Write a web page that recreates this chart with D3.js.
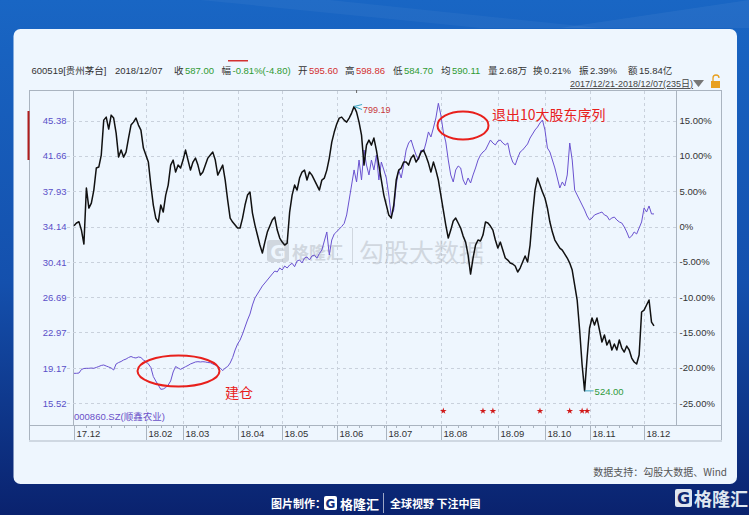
<!DOCTYPE html>
<html><head><meta charset="utf-8">
<script src="https://cdn.jsdelivr.net/npm/d3@7"></script>
<style>body{margin:0;background:#0d2f86;} svg{display:block}</style>
</head><body>
<svg id="c" width="749" height="515"></svg>
<script>
// ---------- data ----------
const monthLabels = ["17.12","18.02","18.03","18.04","18.05","18.06","18.07","18.08","18.09","18.10","18.11","18.12"];
const monthDays   = [0,29,44,66,84,106,126,148,171,190,208,230];
const rightTicks  = [15,10,5,0,-5,-10,-15,-20,-25];
const leftTicks   = ["45.38","41.66","37.93","34.14","30.41","26.69","22.97","19.17","15.52"];
// 600519 贵州茅台: % change since 2017/12/21, one value per trading day (235 days)
const moutaiPct = [
  0.11,0.50,0.68,-0.50,-2.48,5.45,2.62,3.33,5.17,8.29,
  8.43,10.13,15.08,15.51,13.81,15.79,15.37,13.24,9.84,10.84,
  9.84,10.55,12.54,14.38,14.80,15.37,14.38,13.67,11.12,10.13,
  9.14,5.88,3.05,1.20,0.64,3.05,2.05,4.46,5.88,8.71,
  9.42,7.72,8.71,8.29,9.42,10.84,9.42,8.00,9.14,9.70,
  8.71,7.29,7.72,8.71,9.70,10.13,10.55,9.42,7.29,8.00,
  8.71,6.59,3.75,1.20,0.64,0.21,-0.21,-0.21,1.20,3.05,
  4.46,4.89,1.91,0.21,-1.20,-2.62,-3.75,-2.20,-0.78,0.07,
  0.92,1.35,-0.50,-1.63,-2.20,-2.62,-2.34,2.05,4.46,5.88,
  5.17,6.87,7.72,8.00,6.59,7.72,7.29,6.59,5.88,5.17,
  6.59,6.87,8.00,9.70,11.97,13.39,14.52,15.37,15.51,15.08,
  14.80,15.37,16.08,17.01,16.22,14.80,12.96,8.71,11.54,12.25,
  11.54,12.54,10.84,8.71,6.59,4.46,3.05,1.63,1.20,3.05,
  6.59,8.00,8.29,9.14,9.14,8.71,9.70,10.13,9.14,9.70,
  10.55,10.84,9.99,8.99,7.72,9.14,8.00,6.59,4.46,2.34,
  0.21,-1.63,-0.50,0.78,1.20,0.50,-0.21,-1.35,-2.20,-4.04,
  -6.73,-4.46,-2.62,-1.91,-2.05,-1.20,0.64,0.50,0.07,-0.50,
  -1.91,-3.05,-2.20,-3.33,-4.46,-4.75,-5.17,-5.31,-5.59,-6.44,
  -5.88,-5.03,-4.18,-5.03,-2.62,1.63,5.17,6.87,5.88,4.89,
  4.04,2.62,0.64,-0.78,-1.91,-2.48,-3.05,-3.33,-3.90,-4.46,
  -5.17,-6.16,-8.29,-10.41,-14.66,-19.62,-23.28,-18.63,-14.38,-12.96,
  -13.95,-12.96,-14.66,-16.36,-15.37,-16.78,-16.08,-17.49,-16.64,-17.49,
  -16.08,-17.21,-17.78,-16.93,-17.49,-18.63,-19.19,-19.48,-18.20,-12.11,
  -11.83,-11.12,-10.41,-13.53,-14.06];
// 000860 顺鑫农业: price, one value per trading day
const shunxinPrice = [
  18.66,18.66,18.69,19.06,19.17,19.19,19.19,19.22,19.19,19.28,
  19.38,19.49,19.54,19.43,19.33,19.22,19.01,19.65,19.80,19.91,
  20.07,20.17,20.33,20.44,20.33,20.28,20.39,20.33,20.07,19.91,
  19.65,19.28,18.32,17.85,17.42,16.97,17.00,17.16,17.42,17.85,
  18.80,19.38,19.22,19.08,19.22,19.36,19.49,19.65,19.75,19.86,
  19.89,19.86,19.89,19.86,19.80,19.78,19.65,19.54,19.38,19.22,
  18.94,19.22,19.38,19.75,20.33,21.13,21.76,22.18,22.82,23.56,
  24.30,24.93,25.89,26.63,27.05,27.47,27.90,28.21,28.53,28.85,
  29.17,29.48,29.38,29.80,29.59,30.01,29.80,30.12,30.30,29.94,
  30.54,30.65,30.33,30.86,30.96,30.65,31.07,31.17,30.83,31.33,
  31.70,32.66,33.61,31.17,32.76,33.40,33.64,33.92,34.19,34.51,
  35.41,36.99,38.58,40.17,38.90,41.22,39.11,42.28,40.69,39.64,
  41.22,40.17,41.75,39.11,41.01,40.17,39.32,37.52,35.30,35.93,
  38.58,40.17,39.32,40.69,42.28,43.02,43.34,42.49,41.75,41.22,
  42.28,42.07,43.02,44.19,43.66,44.61,45.67,47.22,45.98,44.19,
  43.13,41.22,39.64,38.90,40.17,40.59,40.38,39.11,38.58,39.32,
  38.79,39.64,40.38,41.22,41.75,42.07,42.28,42.81,43.34,43.02,
  42.81,43.23,43.34,43.02,42.81,43.02,41.75,41.01,40.69,41.44,
  42.07,42.28,42.60,42.92,43.55,43.97,44.40,44.71,45.14,45.45,
  44.40,42.49,42.07,41.22,40.38,39.32,38.26,38.90,38.47,39.64,
  43.02,41.22,38.05,37.52,36.99,36.46,35.93,35.30,34.88,35.09,
  35.41,35.52,35.62,35.72,35.41,35.30,34.88,35.09,35.19,34.88,
  34.67,34.56,34.14,33.61,32.97,33.18,33.61,33.40,34.03,34.67,
  36.15,35.72,36.36,35.52,35.52];
const starDays = [149,165,169,188,200,205,207];
const maxLabel = "799.19", minLabel = "524.00";
const headerLabels = ["收","幅","开","高","低","均","量","换","振","额"];
const headerValues = ["587.00","-0.81%(-4.80)","595.60","598.86","584.70","590.11","2.68万","0.21%","2.39%","15.84亿"];
const headerKinds  = ["down","down","up","up","down","down","flat","flat","flat","flat"];

// ---------- layout ----------
const svg = d3.select("#c");
const FONT = "'Noto Sans CJK SC','Noto Sans',sans-serif";
const FL = "'Liberation Sans','Noto Sans CJK SC',sans-serif";
const defs = svg.append("defs");
const g1 = defs.append("linearGradient").attr("id","bg").attr("x1",0).attr("y1",0).attr("x2",0).attr("y2",1);
g1.append("stop").attr("offset","0%").attr("stop-color","#1966c4");
g1.append("stop").attr("offset","55%").attr("stop-color","#1450ad");
g1.append("stop").attr("offset","100%").attr("stop-color","#0a226e");
svg.append("rect").attr("width",749).attr("height",515).attr("fill","url(#bg)");
svg.append("path").attr("d","M200,0 L330,0 L600,28 L480,28 Z").attr("fill","#ffffff").attr("opacity",0.04);
svg.append("path").attr("d","M560,28 L749,0 L749,28 Z").attr("fill","#ffffff").attr("opacity",0.05);
svg.append("rect").attr("x",13.5).attr("y",29).attr("width",723.5).attr("height",455).attr("rx",7).attr("fill","#eef6fe");

const L=29, R=721, T=90, B=425, AX=73, AXR=676;
const days = d3.range(moutaiPct.length);
const x  = d3.scaleLinear().domain([0,234]).range([74,654]);
const yR = d3.scaleLinear().domain([-25,15]).range([403,120.7]);
const yL = d3.scaleLinear().domain([15.52,45.38]).range([403,120.7]);

// frame
const frame = svg.append("g").attr("stroke","#aab4c0").attr("stroke-width",1).attr("fill","none");
frame.append("line").attr("x1",L).attr("x2",R).attr("y1",T+0.5).attr("y2",T+0.5);
frame.append("line").attr("x1",L+0.5).attr("x2",L+0.5).attr("y1",T).attr("y2",B+16);
frame.append("line").attr("x1",AX+0.5).attr("x2",AX+0.5).attr("y1",T).attr("y2",B);
frame.append("line").attr("x1",AXR+0.5).attr("x2",AXR+0.5).attr("y1",T).attr("y2",B);
frame.append("line").attr("x1",R+0.5).attr("x2",R+0.5).attr("y1",T).attr("y2",B+16);
frame.append("line").attr("x1",L).attr("x2",R).attr("y1",B+0.5).attr("y2",B+0.5);
svg.append("rect").attr("x",L).attr("y",B+15).attr("width",R-L+1).attr("height",2).attr("fill","#cfd8e2");
svg.append("rect").attr("x",27.5).attr("y",111).attr("width",2).attr("height",49).attr("fill","#b01c1c");

// grid
const grid = svg.append("g").attr("stroke","#c9d1dc").attr("stroke-dasharray","3,3").attr("stroke-width",1);
rightTicks.forEach(t=>grid.append("line").attr("x1",67).attr("x2",679).attr("y1",Math.round(yR(t))+0.5).attr("y2",Math.round(yR(t))+0.5));
monthDays.slice(1).forEach(d=>grid.append("line").attr("x1",Math.round(x(d))+0.5).attr("x2",Math.round(x(d))+0.5).attr("y1",T+1).attr("y2",B));

// x axis labels & ticks
const xa = svg.append("g").attr("font-family",FL).attr("font-size",9.5).attr("fill","#333");
monthDays.forEach((d,i)=>{
  const px = Math.round(x(d))+0.5;
  xa.append("line").attr("x1",px).attr("x2",px).attr("y1",B).attr("y2",B+15).attr("stroke","#aab4c0");
  xa.append("text").attr("x",px+2).attr("y",B+11.5).text(monthLabels[i]);
});
d3.range(5,234,5).forEach(d=>xa.append("line").attr("x1",Math.round(x(d))+0.5).attr("x2",Math.round(x(d))+0.5).attr("y1",B).attr("y2",B+3).attr("stroke","#aab4c0"));

// y labels
const ya = svg.append("g").attr("font-family",FL).attr("font-size",9.5);
rightTicks.forEach(t=>ya.append("text").attr("x",679.5).attr("y",yR(t)+3.5).attr("fill","#333").text(t===0?"0%":t.toFixed(2)+"%"));
leftTicks.forEach(v=>ya.append("text").attr("x",66.5).attr("y",yL(+v)+3.5).attr("text-anchor","end").attr("fill","#5a4fc8").text(v));
svg.append("text").attr("x",AX+1).attr("y",B-5).attr("font-family",FL).attr("font-size",9.5).attr("fill","#6a50c8").text("000860.SZ(顺鑫农业)");

// watermark
const wm = svg.append("g").attr("opacity",0.55).attr("fill","#b9bec6");
wm.append("rect").attr("x",267).attr("y",240).attr("width",22).attr("height",22).attr("rx",3);
wm.append("text").attr("x",278).attr("y",259).attr("text-anchor","middle").attr("font-family","DejaVu Sans").attr("font-weight","bold").attr("font-size",19).attr("fill","#eef6fe").text("G");
wm.append("text").attr("x",292).attr("y",259).attr("font-family",FONT).attr("font-size",17).attr("font-weight","bold").text("格隆汇");
wm.append("rect").attr("x",352).attr("y",228).attr("width",1).attr("height",37);
wm.append("text").attr("x",359).attr("y",262).attr("font-family",FONT).attr("font-size",25).text("勾股大数据");

// lines
const lineP = d3.line().x((d,i)=>x(days[i])).y(d=>yL(d));
const lineB = d3.line().x((d,i)=>x(days[i])).y(d=>yR(d));
svg.append("path").attr("d",lineP(shunxinPrice)).attr("fill","none").attr("stroke","#6a52d0").attr("stroke-width",1);
svg.append("path").attr("d",lineB(moutaiPct)).attr("fill","none").attr("stroke","#111").attr("stroke-width",1.5).attr("stroke-linejoin","round");

// extreme labels
const iMax = d3.maxIndex(moutaiPct), iMin = d3.minIndex(moutaiPct);
const mx = x(days[iMax]), my = yR(moutaiPct[iMax]);
svg.append("path").attr("d",`M${mx+8},${my+3}L${mx},${my}L${mx+8},${my-2}`).attr("fill","none").attr("stroke","#3aa7c4");
svg.append("text").attr("x",mx+9).attr("y",my+6).attr("font-family",FL).attr("font-size",9).attr("fill","#c8383a").text(maxLabel);
const nx = x(days[iMin]), ny = yR(moutaiPct[iMin]);
svg.append("path").attr("d",`M${nx+9},${ny}L${nx},${ny}`).attr("fill","none").attr("stroke","#3aa7c4");
svg.append("text").attr("x",nx+10).attr("y",ny+4).attr("font-family",FL).attr("font-size",9.5).attr("fill","#2e9a3c").text(minLabel);
svg.append("line").attr("x1",mx+2.5).attr("x2",mx+2.5).attr("y1",T).attr("y2",T+3).attr("stroke","#666");

// stars
starDays.forEach(d=>svg.append("path").attr("d",d3.symbol(d3.symbolStar,14)()).attr("transform",`translate(${x(d)},411)`).attr("fill","#d01818"));

// annotations
svg.append("ellipse").attr("cx",463).attr("cy",125.5).attr("rx",25.5).attr("ry",14).attr("fill","none").attr("stroke","#e8201c").attr("stroke-width",2);
svg.append("text").attr("x",492).attr("y",120).attr("font-family",FONT).attr("font-size",14).attr("fill","#e8201c").text("退出10大股东序列");
svg.append("ellipse").attr("cx",178.5).attr("cy",371).attr("rx",41).attr("ry",15.5).attr("fill","none").attr("stroke","#e8201c").attr("stroke-width",2);
svg.append("text").attr("x",225).attr("y",398).attr("font-family",FONT).attr("font-size",14).attr("fill","#e8201c").text("建仓");

// header
const hd = svg.append("g").attr("font-family",FL).attr("font-size",9.5);
const colors = {up:"#d33030",down:"#2f9a32",flat:"#333"};
hd.append("text").attr("x",31.5).attr("y",74).attr("fill","#333").text("600519[贵州茅台]");
hd.append("text").attr("x",115).attr("y",74).attr("fill","#333").text("2018/12/07");
const hx = [174,221.5,298,345,393,441,488,533,579,628];
headerLabels.forEach((l,i)=>{
  hd.append("text").attr("x",hx[i]).attr("y",74).attr("fill","#333").text(l);
  hd.append("text").attr("x",hx[i]+11).attr("y",74).attr("fill",colors[headerKinds[i]]).text(headerValues[i]);
});
svg.append("rect").attr("x",228).attr("y",60).attr("width",20).attr("height",1.5).attr("fill","#d33030");
svg.append("text").attr("x",570).attr("y",87).attr("font-family",FL).attr("font-size",9).attr("fill","#444").attr("text-decoration","underline").text("2017/12/21-2018/12/07(235日)");
svg.append("path").attr("d","M693,80 L704,80 L698.5,87 Z").attr("fill","#777");
svg.append("rect").attr("x",711).attr("y",81).attr("width",9).attr("height",7).attr("fill","#e8a020");
svg.append("path").attr("d","M713,81 v-3 a3,3 0 0 1 6,0").attr("fill","none").attr("stroke","#e8a020").attr("stroke-width",1.3);

// footer
svg.append("text").attr("x",727).attr("y",476).attr("text-anchor","end").attr("font-family","'Noto Sans CJK SC',serif").attr("font-size",10).attr("fill","#555").text("数据支持：勾股大数据、Wind");
const ft = svg.append("g").attr("font-family",FONT).attr("font-weight","bold").attr("fill","#fff");
ft.append("text").attr("x",271).attr("y",508).attr("font-size",11).text("图片制作：");
ft.append("rect").attr("x",324).attr("y",496).attr("width",13).attr("height",14).attr("rx",2);
ft.append("text").attr("x",330.5).attr("y",508).attr("text-anchor","middle").attr("font-size",12).attr("fill","#12307e").attr("font-family","DejaVu Sans").text("G");
ft.append("text").attr("x",340).attr("y",509).attr("font-size",13).text("格隆汇");
svg.append("rect").attr("x",383).attr("y",493).attr("width",1).attr("height",20).attr("fill","#ffffff").attr("opacity",0.6);
ft.append("text").attr("x",390).attr("y",508).attr("font-size",11).text("全球视野 下注中国");
const lg = svg.append("g").attr("fill","#dfe6f0");
lg.append("rect").attr("x",675).attr("y",489).attr("width",17).attr("height",18).attr("rx",2);
lg.append("text").attr("x",683.5).attr("y",504).attr("text-anchor","middle").attr("font-size",16).attr("font-weight","bold").attr("fill","#0d2670").attr("font-family","DejaVu Sans").text("G");
lg.append("text").attr("x",694).attr("y",506).attr("font-size",18).attr("font-family",FONT).attr("font-weight","bold").text("格隆汇");
</script>
</body></html>
